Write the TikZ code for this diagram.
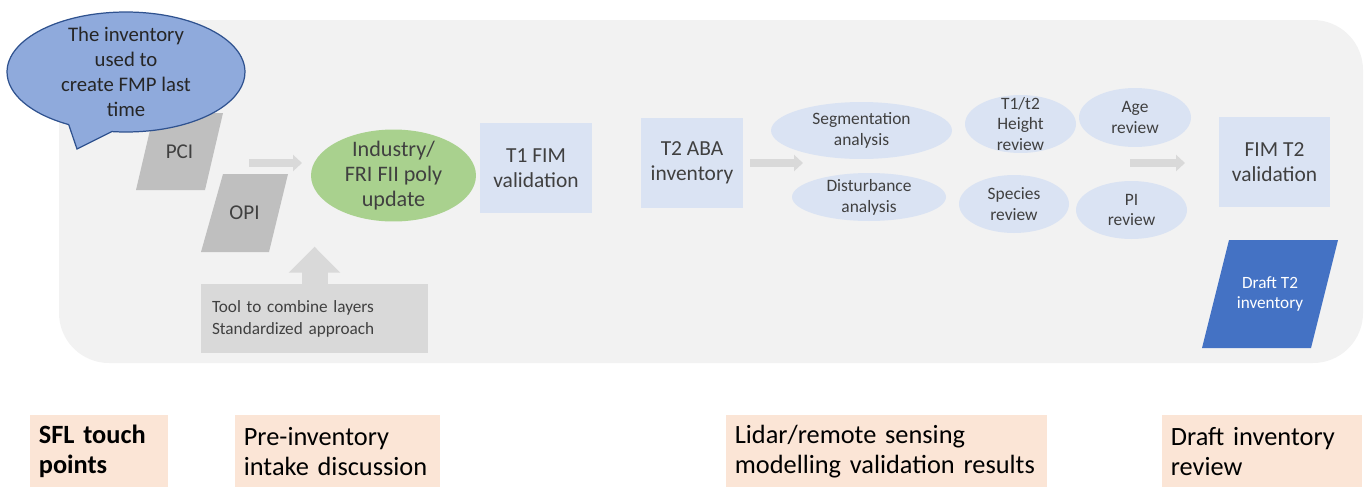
\documentclass[tikz,border=0pt]{standalone}
\usepackage{fontspec}
\setmainfont{Carlito}
\usetikzlibrary{shapes.geometric, shapes.callouts, arrows.meta}

\definecolor{bggray}{HTML}{F2F2F2}
\definecolor{paragray}{HTML}{BFBFBF}
\definecolor{arrgray}{HTML}{D9D9D9}
\definecolor{boxblue}{HTML}{DAE3F3}
\definecolor{bubbleblue}{HTML}{8FAADC}
\definecolor{bubbleedge}{HTML}{2F528F}
\definecolor{frigreen}{HTML}{A9D18E}
\definecolor{draftblue}{HTML}{4472C4}
\definecolor{peach}{HTML}{FBE5D6}
\definecolor{txtgray}{HTML}{404040}

\begin{document}
\begin{tikzpicture}[x=0.02cm, y=-0.02cm,
    box/.style={rectangle, fill=boxblue, text=txtgray, align=center, font=\fontsize{12.2}{14.2}\selectfont},
    oval/.style={ellipse, fill=boxblue, inner sep=0pt},
    ovaltxt/.style={text=txtgray, align=center, font=\fontsize{9.9}{11.9}\selectfont},
    paratxt/.style={text=txtgray, align=center, font=\fontsize{12}{14.2}\selectfont},
    flow/.style={draw=arrgray, line width=0.15cm, -{Triangle[length=0.18cm,width=0.32cm]}},
    touch/.style={rectangle, fill=peach, anchor=north west, align=left, inner xsep=0.17cm, minimum height=1.44cm, font=\fontsize{15}{17}\selectfont}]
    \useasboundingbox (0,0) rectangle (1364,487);
    % grey panel
    \fill[bggray, rounded corners=1cm] (59,20) rectangle (1363,363);

    % pre-inventory part
    \fill[paragray] (154,113) -- (223,113) -- (205,190) -- (136,190) -- cycle;
    \node[paratxt] (pci) at (179.5,151.5) {PCI};
    \fill[paragray] (223,174) -- (288,174) -- (269,252) -- (201,252) -- cycle;
    \node[paratxt] (opi) at (244.5,213) {OPI};
    \node[ellipse callout, fill=bubbleblue, draw=bubbleedge, line width=0.7pt, inner sep=0pt, minimum width=4.76cm, minimum height=2.4cm,
          callout absolute pointer={(77,149)}, callout pointer arc=22,
          label={[text=black!85, align=center, font=\fontsize{11.8}{14.2}\selectfont]center:The inventory\\used to\\create FMP last\\time}] (bubble) at (126,72) {};
    \node[ellipse, fill=frigreen, inner sep=0pt, minimum width=3.3cm, minimum height=1.84cm,
          label={[text=txtgray, align=center, font=\fontsize{12.6}{14.2}\selectfont]center:Industry/\\FRI FII poly\\update}] (fri) at (393.5,175.5) {};
    \node[rectangle, fill=arrgray, text=txtgray, align=left, text width=4.1cm, inner xsep=0.22cm, minimum height=1.38cm,
          font=\fontsize{9.8}{12.5}\selectfont] (tool) at (314.5,318.5) {Tool to combine layers\\Standardized approach};
    \coordinate (in1) at (249,163);
    \coordinate (out1) at (302,163);
    \draw[flow] (in1) -- (out1);
    \draw[draw=arrgray, line width=0.52cm, -{Triangle[length=0.52cm,width=1cm]}] (tool.north) -- ++(0,-37);

    % validation and lidar part
    \node[box, minimum width=2.24cm, minimum height=1.8cm] (tone) at (536,168) {T1 FIM\\validation};
    \node[box, minimum width=2.04cm, minimum height=1.8cm] (ttwo) at (692,163) {T2 ABA\\inventory};
    \coordinate (in2) at (750,163);
    \coordinate (out2) at (803,163);
    \draw[flow] (in2) -- (out2);
    \node[oval, minimum width=3.62cm, minimum height=1.14cm, label={[ovaltxt]center:Segmentation\\analysis}] (seg) at (861.5,130.5) {};
    \node[oval, minimum width=3.08cm, minimum height=0.96cm, label={[ovaltxt]center:Disturbance\\analysis}] (dist) at (869,197) {};
    \node[oval, minimum width=2.22cm, minimum height=1.16cm, label={[ovaltxt]center:T1/t2\\Height\\review}] (hgt) at (1020.5,124) {};
    \node[oval, minimum width=2.2cm, minimum height=1.16cm, label={[ovaltxt]center:Species\\review}] (spc) at (1014,204) {};
    \node[oval, minimum width=2.24cm, minimum height=1.18cm, label={[ovaltxt]center:Age\\review}] (age) at (1135,117.5) {};
    \node[oval, minimum width=2.22cm, minimum height=1.16cm, label={[ovaltxt]center:PI\\review}] (pi) at (1131.5,210) {};
    \coordinate (in3) at (1130,163);
    \coordinate (out3) at (1185,163);
    \draw[flow] (in3) -- (out3);
    \node[box, minimum width=2.22cm, minimum height=1.8cm] (fimtwo) at (1274.5,162) {FIM T2\\validation};
    \fill[draftblue] (1229,240) -- (1338,240) -- (1311,348) -- (1202,348) -- cycle;
    \node[text=white, align=center, font=\fontsize{9.8}{11.6}\selectfont] (draft) at (1270,294) {Draft T2\\inventory};

    % touch points
    \node[touch, text width=2.42cm, font=\fontsize{15}{17}\selectfont\bfseries] (sfl) at (30,415) {SFL touch\\points};
    \node[touch, text width=3.76cm] (pre) at (235,415) {Pre-inventory\\intake discussion};
    \node[touch, text width=6.08cm] (lidar) at (726,415) {Lidar/remote sensing\\modelling validation results};
    \node[touch, text width=3.66cm] (review) at (1162,415) {Draft inventory\\review};
\end{tikzpicture}
\end{document}
